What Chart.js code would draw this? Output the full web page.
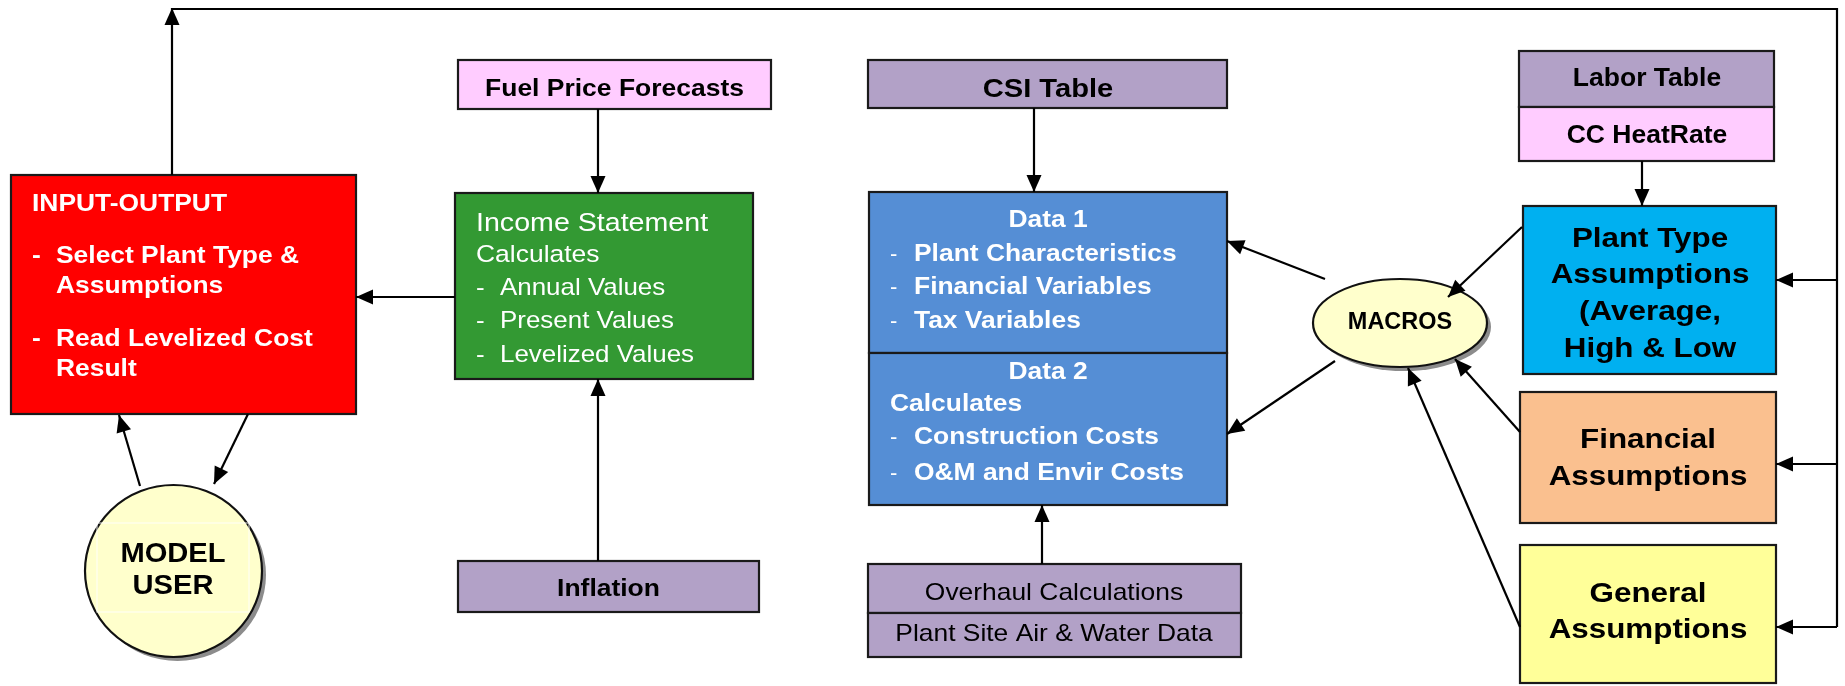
<!DOCTYPE html>
<html><head><meta charset="utf-8">
<script src="https://cdn.jsdelivr.net/npm/chart.js@4.4.1/dist/chart.umd.min.js"></script>
<style>html,body{margin:0;padding:0;background:#fff;}#wrap{width:1845px;height:686px;}</style>
</head><body><div id="wrap"><canvas id="c" width="1845" height="686"></canvas></div>
<script>
// ---- Diagram content (nodes, labels, links) ----
const boxIds = ['io','income','fuel','inflation','csi','data1','data2','overhaul','siteData','labor','heatRate','plantType','financial','general'];
// box extents in diagram units [x0, y0, x1, y1]
const boxRects = [
  [11,175,356,414],
  [455,193,753,379],
  [458,60,771,109],
  [458,561,759,612],
  [868,60,1227,108],
  [869,192,1227,353],
  [869,353,1227,505],
  [868,564,1241,613],
  [868,613,1241,657],
  [1519,51,1774,107],
  [1519,107,1774,161],
  [1523,206,1776,374],
  [1520,392,1776,523],
  [1520,545,1776,683]
];
const boxFills = ['#FF0000','#339933','#FFCCFF','#B2A1C7','#B2A1C7','#558ED5','#558ED5','#B2A1C7','#B2A1C7','#B2A1C7','#FFCCFF','#00B0F0','#FAC08F','#FFFF99'];

const ellipseIds = ['modelUser','macros'];
const ellipseCenters = [[173.5,571],[1400,323]];
const ellipseRadii = [[88.5,86],[87,44]];

// text lines: [text, x, baseline y, style]
const textLines = [
  ['INPUT-OUTPUT',32,211,'ioB'],
  ['-',32,263,'ioB'],['Select Plant Type &',56,263,'ioB'],
  ['Assumptions',56,293,'ioB'],
  ['-',32,346,'ioB'],['Read Levelized Cost',56,346,'ioB'],
  ['Result',56,376,'ioB'],
  ['Income Statement',476,231,'grT'],
  ['Calculates',476,262,'grC'],
  ['-',476,295,'grN'],['Annual Values',500,295,'grN'],
  ['-',476,328,'grN'],['Present Values',500,328,'grN'],
  ['-',476,362,'grN'],['Levelized Values',500,362,'grN'],
  ['Fuel Price Forecasts',614.5,96,'blkC'],
  ['Inflation',608.5,596,'blkC'],
  ['CSI Table',1048,97,'csi'],
  ['Data 1',1048,227,'blC'],
  ['-',890,261,'blD'],['Plant Characteristics',914,261,'blB'],
  ['-',890,294,'blD'],['Financial Variables',914,294,'blB'],
  ['-',890,328,'blD'],['Tax Variables',914,328,'blB'],
  ['Data 2',1048,379,'blC'],
  ['Calculates',890,411,'blB'],
  ['-',890,444,'blD'],['Construction Costs',914,444,'blB'],
  ['-',890,480,'blD'],['O&M and Envir Costs',914,480,'blB'],
  ['Overhaul Calculations',1054,600,'ov'],
  ['Plant Site Air & Water Data',1054,641,'ov'],
  ['Labor Table',1647,86,'lab'],
  ['CC HeatRate',1647,143,'lab'],
  ['Plant Type',1650,247,'big'],
  ['Assumptions',1650,283,'big'],
  ['(Average,',1650,320,'big'],
  ['High & Low',1650,357,'big'],
  ['Financial',1648,448,'big'],
  ['Assumptions',1648,485,'big'],
  ['General',1648,602,'big'],
  ['Assumptions',1648,638,'big'],
  ['MACROS',1400,329,'mac'],
  ['MODEL',173,562,'user'],
  ['USER',173,594,'user']
];

// links: polyline points, arrowhead at end?
const linkPoints = [
  [[172,175],[172,8]],
  [[172,9],[1837,9],[1837,627]],
  [[1837,280],[1776,280]],
  [[1837,464],[1776,464]],
  [[1837,627],[1776,627]],
  [[455,297],[356,297]],
  [[140,486],[119,415]],
  [[248,414],[214,484]],
  [[598,109],[598,193]],
  [[598,561],[598,379]],
  [[1034,108],[1034,192]],
  [[1042,564],[1042,505]],
  [[1642,161],[1642,206]],
  [[1325,279],[1227,241]],
  [[1335,361],[1227,434]],
  [[1522,227],[1448,297]],
  [[1520,432],[1455,359]],
  [[1520,627],[1408,368]]
];
const linkHeads = [true,false,true,true,true,true,true,true,true,true,true,true,true,true,true,true,true,true];

// ---- styles ----
const FONT = '"Liberation Sans", Arial, Helvetica, sans-serif';
const textStyles = {
  ioB:{w:'bold',s:24,c:'#FFFFFF',sx:1.1,a:'left'},
  grT:{w:'normal',s:26,c:'#FFFFFF',sx:1.1,a:'left'},
  grC:{w:'normal',s:24.5,c:'#FFFFFF',sx:1.08,a:'left'},
  grN:{w:'normal',s:24,c:'#FFFFFF',sx:1.08,a:'left'},
  blkC:{w:'bold',s:24.5,c:'#000000',sx:1.08,a:'center'},
  csi:{w:'bold',s:26.5,c:'#000000',sx:1.1,a:'center'},
  blC:{w:'bold',s:24,c:'#FFFFFF',sx:1.1,a:'center'},
  blB:{w:'bold',s:24,c:'#FFFFFF',sx:1.1,a:'left'},
  blD:{w:'normal',s:22,c:'#FFFFFF',sx:1.0,a:'left'},
  ov:{w:'normal',s:24,c:'#000000',sx:1.1,a:'center'},
  lab:{w:'bold',s:26,c:'#000000',sx:1.02,a:'center'},
  big:{w:'bold',s:28,c:'#000000',sx:1.12,a:'center'},
  mac:{w:'bold',s:23,c:'#000000',sx:1.02,a:'center'},
  user:{w:'bold',s:28,c:'#000000',sx:1.04,a:'center'}
};

function drawText(ctx, t, px, py, st){
  ctx.save();
  ctx.font = st.w + ' ' + st.s + 'px ' + FONT;
  ctx.fillStyle = st.c;
  ctx.textBaseline = 'alphabetic';
  ctx.textAlign = st.a;
  ctx.translate(px, py);
  ctx.scale(st.sx, 1);
  ctx.fillText(t, 0, 0);
  ctx.restore();
}

const diagramPlugin = {
  id: 'diagram',
  beforeDatasetsDraw(chart){
    const ctx = chart.ctx, xs = chart.scales.x, ys = chart.scales.y;
    const X = v => xs.getPixelForValue(v), Y = v => ys.getPixelForValue(v);
    ctx.save();
    // boxes
    boxRects.forEach((r,i) => {
      const x0 = X(r[0]), y0 = Y(r[1]), x1 = X(r[2]), y1 = Y(r[3]);
      ctx.fillStyle = boxFills[i];
      ctx.fillRect(x0, y0, x1-x0, y1-y0);
      ctx.lineWidth = 2.2;
      ctx.strokeStyle = '#1a1a1a';
      ctx.strokeRect(x0, y0, x1-x0, y1-y0);
    });
    // ellipses with shadow
    ellipseCenters.forEach((c,i) => {
      const cx = X(c[0]), cy = Y(c[1]);
      const rx = Math.abs(X(c[0]+ellipseRadii[i][0]) - cx), ry = Math.abs(Y(c[1]+ellipseRadii[i][1]) - cy);
      ctx.beginPath();
      ctx.ellipse(cx+4, cy+4, rx, ry, 0, 0, Math.PI*2);
      ctx.fillStyle = '#8c8c8c';
      ctx.fill();
      ctx.beginPath();
      ctx.ellipse(cx, cy, rx, ry, 0, 0, Math.PI*2);
      ctx.fillStyle = '#FFFFCC';
      ctx.fill();
      ctx.lineWidth = 2.2;
      ctx.strokeStyle = '#111';
      ctx.stroke();
    });
    // faint text frame inside the model-user circle
    ctx.strokeStyle = 'rgba(255,255,255,0.75)';
    ctx.lineWidth = 1.2;
    ctx.strokeRect(X(97), Y(523), X(249)-X(97), Y(612)-Y(523));
    // text
    textLines.forEach(l => drawText(ctx, l[0], X(l[1]), Y(l[2]), textStyles[l[3]]));
    ctx.restore();
  },
  afterDatasetsDraw(chart){
    const ctx = chart.ctx, xs = chart.scales.x, ys = chart.scales.y;
    const X = v => xs.getPixelForValue(v), Y = v => ys.getPixelForValue(v);
    ctx.save();
    ctx.fillStyle = '#000';
    linkPoints.forEach((pts,i) => {
      if (!linkHeads[i]) return;
      const a = pts[pts.length-2], b = pts[pts.length-1];
      const ax = X(a[0]), ay = Y(a[1]), bx = X(b[0]), by = Y(b[1]);
      const ang = Math.atan2(by-ay, bx-ax);
      const L = 17, W = 7.5;
      ctx.beginPath();
      ctx.moveTo(bx, by);
      ctx.lineTo(bx - L*Math.cos(ang) + W*Math.sin(ang), by - L*Math.sin(ang) - W*Math.cos(ang));
      ctx.lineTo(bx - L*Math.cos(ang) - W*Math.sin(ang), by - L*Math.sin(ang) + W*Math.cos(ang));
      ctx.closePath();
      ctx.fill();
    });
    ctx.restore();
  }
};

const datasets = linkPoints.map((pts,i) => ({
  label: 'link' + i,
  data: pts.map(p => ({x:p[0], y:p[1]})),
  showLine: true,
  borderColor: '#000000',
  borderWidth: 2.2,
  pointRadius: 0,
  pointHoverRadius: 0,
  tension: 0,
  fill: false
}));

new Chart(document.getElementById('c'), {
  type: 'scatter',
  data: { datasets },
  options: {
    responsive: false,
    maintainAspectRatio: false,
    devicePixelRatio: 1,
    animation: false,
    events: [],
    layout: { padding: 0 },
    plugins: { legend: { display: false }, tooltip: { enabled: false } },
    scales: {
      x: { type: 'linear', min: 0, max: 1845, display: false },
      y: { type: 'linear', min: 0, max: 686, reverse: true, display: false }
    }
  },
  plugins: [diagramPlugin]
});
</script>
</body></html>
